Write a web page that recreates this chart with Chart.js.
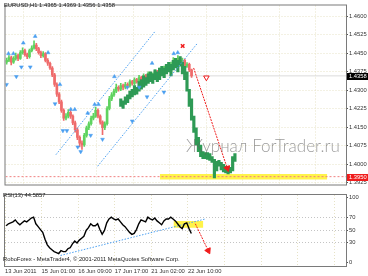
<!DOCTYPE html>
<html lang="en">
<head>
<meta charset="UTF-8">
<title>EURUSD H1</title>
<script src="https://cdn.jsdelivr.net/npm/chart.js"></script>
<style>
  body { margin: 0; background: #fff; }
  #wrap { position: relative; width: 368px; height: 276px; overflow: hidden; font-family: 'Liberation Sans', Arial, sans-serif; }
  canvas { position: absolute; left: 0; }
  #main { top: 0; }
  #rsi { top: 190px; }
  .txt { position: absolute; font-size: 5.8px; color: #222; white-space: nowrap; line-height: 1; }
  #title { left: 4px; top: 3px; }
  #rsiLbl { left: 3px; top: 193px; }
  #copy { left: 3px; top: 257px; }
  #mark { left: 186px; top: 137px; font-size: 17px; color: rgba(95,95,95,0.62); font-family: Lato, 'Liberation Sans', sans-serif; font-weight: 300; }
</style>
</head>
<body>
<div id="wrap">
  <canvas id="main" width="368" height="190"></canvas>
  <canvas id="rsi" width="368" height="86"></canvas>
  <div class="txt" id="title">EURUSD,H1  1.4365 1.4369 1.4356 1.4358</div>
  <div class="txt" id="rsiLbl">RSI(13) 44.5857</div>
  <div class="txt" id="copy">RoboForex - MetaTrader4, © 2001-2011 MetaQuotes Software Corp.</div>
  <div class="txt" id="mark">Журнал ForTrader.ru</div>
</div>
<script>
// time axis (hours from the first bar), one candle per 2 hours
const barHours = [1,3,5,7,9,11,13,15,17,19,21,23,25,27,29,31,33,35,37,39,41,43,45,47,49,51,53,55,57,59,
  61,63,65,67,69,71,73,75,77,79,81,83,85,87,89,91,93,95,97,99,101,103,105,107,109,111,113,115,117,119,
  121,123,125,127,129,131,133,135,137,139,141,143,145,147,149,151,153,155,157,159,161,163];
const opens = [1.4413,1.4421,1.4432,1.4413,1.4429,1.4440,1.4429,1.4452,1.4460,1.4444,1.4436,1.4460,1.4471,1.4483,1.4468,1.4452,1.4440,1.4448,1.4421,1.4409,
  1.4390,1.4362,1.4323,1.4284,1.4253,1.4218,1.4187,1.4195,1.4210,1.4195,1.4168,1.4140,1.4109,1.4086,1.4078,1.4117,1.4148,1.4164,1.4187,1.4195,
  1.4218,1.4195,1.4171,1.4148,1.4164,1.4226,1.4265,1.4281,1.4296,1.4312,1.4304,1.4319,1.4312,1.4323,1.4319,1.4335,1.4327,1.4343,1.4335,1.4351,
  1.4343,1.4358,1.4351,1.4366,1.4355,1.4362,1.4374,1.4362,1.4382,1.4374,1.4390,1.4382,1.4397,1.4405,1.4421,1.4413,1.4429,1.4413,1.4421,1.4397,
  1.4405,1.4382];
const closes = [1.4421,1.4432,1.4413,1.4429,1.4440,1.4429,1.4452,1.4460,1.4444,1.4436,1.4460,1.4471,1.4483,1.4468,1.4452,1.4440,1.4448,1.4421,1.4409,1.4390,
  1.4362,1.4323,1.4284,1.4253,1.4218,1.4187,1.4195,1.4210,1.4195,1.4168,1.4140,1.4109,1.4086,1.4078,1.4117,1.4148,1.4164,1.4187,1.4195,1.4218,
  1.4195,1.4171,1.4148,1.4164,1.4226,1.4265,1.4281,1.4296,1.4312,1.4304,1.4319,1.4312,1.4323,1.4319,1.4335,1.4327,1.4343,1.4335,1.4351,1.4343,
  1.4358,1.4351,1.4366,1.4355,1.4362,1.4374,1.4362,1.4382,1.4374,1.4390,1.4382,1.4397,1.4405,1.4421,1.4413,1.4429,1.4413,1.4421,1.4397,1.4405,
  1.4382,1.4358];
const highs = [1.4430,1.4440,1.4438,1.4436,1.4450,1.4446,1.4460,1.4472,1.4466,1.4450,1.4466,1.4480,1.4500,1.4490,1.4474,1.4458,1.4456,1.4452,1.4428,1.4414,
  1.4396,1.4368,1.4330,1.4290,1.4260,1.4225,1.4205,1.4222,1.4220,1.4200,1.4175,1.4148,1.4115,1.4095,1.4125,1.4155,1.4172,1.4195,1.4206,1.4232,
  1.4225,1.4200,1.4176,1.4172,1.4234,1.4275,1.4290,1.4305,1.4325,1.4318,1.4328,1.4325,1.4332,1.4330,1.4342,1.4340,1.4350,1.4348,1.4360,1.4356,
  1.4366,1.4364,1.4374,1.4370,1.4370,1.4382,1.4380,1.4390,1.4388,1.4398,1.4396,1.4405,1.4414,1.4432,1.4428,1.4440,1.4434,1.4430,1.4426,1.4412,
  1.4410,1.4385];
const lows = [1.4405,1.4415,1.4402,1.4408,1.4422,1.4420,1.4425,1.4446,1.4438,1.4428,1.4430,1.4455,1.4466,1.4460,1.4446,1.4432,1.4434,1.4414,1.4400,1.4384,
  1.4355,1.4315,1.4275,1.4245,1.4210,1.4178,1.4180,1.4188,1.4186,1.4160,1.4130,1.4100,1.4070,1.4060,1.4072,1.4110,1.4140,1.4158,1.4180,1.4190,
  1.4188,1.4162,1.4120,1.4140,1.4158,1.4220,1.4258,1.4275,1.4290,1.4296,1.4298,1.4302,1.4305,1.4310,1.4312,1.4320,1.4320,1.4328,1.4330,1.4336,
  1.4338,1.4344,1.4346,1.4348,1.4350,1.4356,1.4355,1.4358,1.4366,1.4370,1.4375,1.4376,1.4390,1.4400,1.4406,1.4408,1.4405,1.4408,1.4390,1.4392,
  1.4375,1.4352];
const rsiValues = [56.7,59.7,61.2,62.7,65.7,61.2,58.2,61.2,64.2,62.7,65.7,68.7,70.1,59.7,55.2,50.7,46.3,35.8,26.9,22.4,
  19.4,16.4,14.9,13.4,17.9,16.4,16.4,20.9,22.4,28.4,32.8,29.9,34.3,37.3,40.3,49.3,53.7,59.7,56.7,56.7,
  59.7,50.7,43.3,49.3,61.2,67.2,70.1,67.2,65.7,67.2,62.7,58.2,55.2,50.7,46.3,43.3,44.8,50.7,59.7,65.7,
  64.2,62.7,70.1,67.2,65.7,68.7,64.2,61.2,58.2,64.2,67.2,67.2,70.1,67.2,64.2,59.7,55.2,52.2,59.7,61.2,
  52.2,44.6];

// overlaid historical fragment (dark green)
const patternHours = [101,103,105,107,109,111,113,115,117,119,121,123,125,127,129,131,133,135,137,139,
  141,143,145,147,149,151,153,155,157,159,161,163,165,167,169,171,173,175,177,179,181,183,185,187,189,191,193,195,197,199,201];
const patternHighs = [1.4265,1.4257,1.4273,1.4281,1.4296,1.4304,1.4319,1.4312,1.4335,1.4343,1.4358,1.4351,1.4366,1.4374,1.4366,1.4382,1.4374,1.4390,1.4397,1.4390,
  1.4405,1.4413,1.4405,1.4421,1.4429,1.4421,1.4436,1.4413,1.4397,1.4374,1.4304,1.4265,1.4195,1.4148,1.4109,1.4078,1.4051,1.4047,1.4047,1.4043,
  1.4031,1.4020,1.4012,1.4016,1.4008,1.4000,1.3992,1.3992,1.3988,1.4031,1.4043];
const patternLows = [1.4234,1.4226,1.4242,1.4249,1.4265,1.4273,1.4281,1.4284,1.4296,1.4304,1.4312,1.4319,1.4327,1.4335,1.4327,1.4343,1.4335,1.4343,1.4358,1.4351,
  1.4366,1.4374,1.4358,1.4382,1.4390,1.4374,1.4397,1.4366,1.4343,1.4296,1.4234,1.4179,1.4129,1.4078,1.4051,1.4031,1.4023,1.4023,1.4020,1.4016,
  1.4008,1.3945,1.3973,1.3992,1.3977,1.3969,1.3965,1.3961,1.3965,1.3973,1.4012];

// fractal marks
const upFractalHours = [2.6,6.9,15.6,26.0,37.3,47.7,57.2,60.7,72.0,78.1,81.5,95.4,128.4,147.4,150.9];
const upFractalPrices = [1.4448,1.4448,1.4491,1.4518,1.4452,1.4323,1.4222,1.4222,1.4207,1.4242,1.4242,1.4355,1.4409,1.4448,1.4452];
const downFractalHours = [0.9,9.5,13.9,21.7,43.4,50.3,53.8,63.3,65.9,74.6,85.0,106.7,111.0,117.1,124.0,138.8];
const downFractalPrices = [1.4323,1.4355,1.4394,1.4394,1.4245,1.4136,1.4136,1.4070,1.4051,1.4117,1.4101,1.4312,1.4175,1.4312,1.4273,1.4292];

// analyst drawings (hour, price)
const channelLow = [[44.2, 1.4039], [131.0, 1.4538]];
const channelHigh = [[80.7, 1.3992], [168.3, 1.4491]];
const forecastArrow = [[164.8, 1.4390], [194.3, 1.3984]];
const reversalMark = [155.2, 1.4479];
const sellMark = [176.0, 1.4351];
const targetLevel = 1.3950;
const targetZone = { from: 135.3, to: 281.9, low: 1.3938, high: 1.3961 };
const lastPrice = 1.4358;

// RSI drawings (hour, value)
const rsiTrend = [[48.6, 10.4], [175.2, 67.2]];
const rsiZone = { from: 147.4, to: 173.5, low: 53.7, high: 64.2 };
const rsiArrow = [[166.5, 59.7], [177.8, 17.9]];

// axes
const gridHours = [0, 32, 64, 96, 128, 160, 192, 224, 256, 288];
const timeLabels = ['13 Jun 2011', '15 Jun 01:00', '16 Jun 09:00', '17 Jun 17:00', '21 Jun 02:00', '22 Jun 10:00'];
const priceTicks = [1.3925, 1.4000, 1.4075, 1.4150, 1.4225, 1.4300, 1.4375, 1.4450, 1.4525, 1.4600];
const rsiTicks = [0, 30, 50, 70, 100];
const hourMax = 298.3;

const UP = '#5fd35f', DOWN = '#ef6b6b', BLUE = '#4a9ff0', RED = '#f01c1c', GRID = '#e6e2c6';
const tickFont = { family: "'Liberation Sans', Arial, sans-serif", size: 5.8 };
const pts = arr => arr.map(p => ({ x: p[0], y: p[1] }));

const frame = {
  id: 'frame',
  afterDraw(c) {
    const a = c.chartArea, ctx = c.ctx;
    ctx.save();
    ctx.strokeStyle = '#7a7a7a';
    ctx.lineWidth = 1;
    ctx.strokeRect(a.left - 0.5, a.top - 0.5, a.right - a.left + 1, a.bottom - a.top + 1);
    ctx.restore();
  }
};

const tags = {
  id: 'tags',
  afterDraw(c) {
    const y = c.scales.y, ctx = c.ctx;
    ctx.save();
    ctx.font = "5.8px 'Liberation Sans', Arial";
    ctx.textBaseline = 'middle';
    [[lastPrice, '#000'], [targetLevel, RED]].forEach(([v, col]) => {
      const py = Math.round(y.getPixelForValue(v));
      ctx.fillStyle = col;
      ctx.fillRect(y.left + 1, py - 3, 22, 7);
      ctx.fillStyle = '#fff';
      ctx.fillText(v.toFixed(4), y.left + 3, py + 0.5);
    });
    ctx.restore();
  }
};

const candleColor = ctx => closes[ctx.dataIndex] >= opens[ctx.dataIndex] ? UP : DOWN;

new Chart(document.getElementById('main'), {
  type: 'bar',
  data: {
    datasets: [
      { type: 'line', data: [{ x: targetZone.from, y: targetZone.high }, { x: targetZone.to, y: targetZone.high }],
        borderWidth: 0, pointRadius: 0, fill: '+1', backgroundColor: '#fff34a', order: 12 },
      { type: 'line', data: [{ x: targetZone.from, y: targetZone.low }, { x: targetZone.to, y: targetZone.low }],
        borderWidth: 0, pointRadius: 0, fill: false, order: 12 },
      { type: 'line', data: [{ x: 0, y: targetLevel }, { x: hourMax, y: targetLevel }],
        borderColor: '#f08080', borderWidth: 1, borderDash: [2, 2], pointRadius: 0, order: 11 },
      { type: 'line', data: [{ x: 0, y: lastPrice }, { x: hourMax, y: lastPrice }],
        borderColor: '#dcdcdc', borderWidth: 1, pointRadius: 0, order: 11 },
      { data: barHours.map((h, i) => ({ x: h, y: [lows[i], highs[i]] })),
        backgroundColor: candleColor, barThickness: 1, grouped: false, order: 9 },
      { data: barHours.map((h, i) => ({ x: h, y: [opens[i], closes[i]] })),
        backgroundColor: candleColor, barThickness: 2, grouped: false, order: 8 },
      { data: patternHours.map((h, i) => ({ x: h, y: [patternLows[i], patternHighs[i]] })),
        backgroundColor: '#2e9a55', barThickness: 2.5, grouped: false, order: 7 },
      { type: 'line', data: pts(channelLow), borderColor: BLUE, borderWidth: 1, borderDash: [1.5, 1.5], pointRadius: 0, order: 6 },
      { type: 'line', data: pts(channelHigh), borderColor: BLUE, borderWidth: 1, borderDash: [1.5, 1.5], pointRadius: 0, order: 6 },
      { type: 'scatter', data: upFractalHours.map((h, i) => ({ x: h, y: upFractalPrices[i] })),
        pointStyle: 'triangle', pointRadius: 2.2, backgroundColor: BLUE, borderColor: BLUE, borderWidth: 0.5, order: 5 },
      { type: 'scatter', data: downFractalHours.map((h, i) => ({ x: h, y: downFractalPrices[i] })),
        pointStyle: 'triangle', rotation: 180, pointRadius: 2.2, backgroundColor: BLUE, borderColor: BLUE, borderWidth: 0.5, order: 5 },
      { type: 'line', data: pts(forecastArrow), borderColor: RED, borderWidth: 1, borderDash: [2, 1],
        pointRadius: [0, 3.5], pointStyle: 'triangle', rotation: 162, pointBackgroundColor: RED, pointBorderColor: RED, order: 4 },
      { type: 'scatter', data: [{ x: reversalMark[0], y: reversalMark[1] }],
        pointStyle: 'crossRot', pointRadius: 2.5, borderColor: RED, borderWidth: 1.5, order: 3 },
      { type: 'scatter', data: [{ x: sellMark[0], y: sellMark[1] }],
        pointStyle: 'triangle', rotation: 180, pointRadius: 3.2, backgroundColor: '#fff', borderColor: RED, borderWidth: 1, order: 3 }
    ]
  },
  options: {
    responsive: false, animation: false, events: [],
    layout: { padding: { left: 2, top: 3, right: 0, bottom: 1 } },
    plugins: { legend: { display: false }, tooltip: { enabled: false } },
    scales: {
      x: {
        type: 'linear', min: 0, max: hourMax, offset: false,
        afterBuildTicks: s => { s.ticks = gridHours.map(v => ({ value: v })); },
        afterFit: s => { s.height = 0; },
        ticks: { display: false },
        grid: { color: GRID, drawTicks: false },
        border: { display: false, dash: [1, 2] }
      },
      y: {
        position: 'right', min: 1.39182, max: 1.46429,
        afterBuildTicks: s => { s.ticks = priceTicks.map(v => ({ value: v })); },
        afterFit: s => { s.width = 22; },
        ticks: { font: tickFont, color: '#333', padding: 1, callback: v => v.toFixed(4) },
        grid: { color: GRID, tickLength: 2, tickColor: '#555' },
        border: { color: '#666', dash: [1, 2] }
      }
    }
  },
  plugins: [frame, tags]
});

new Chart(document.getElementById('rsi'), {
  type: 'line',
  data: {
    datasets: [
      { data: [{ x: rsiZone.from, y: rsiZone.high }, { x: rsiZone.to, y: rsiZone.high }],
        borderWidth: 0, pointRadius: 0, fill: '+1', backgroundColor: '#fff34a', order: 10 },
      { data: [{ x: rsiZone.from, y: rsiZone.low }, { x: rsiZone.to, y: rsiZone.low }],
        borderWidth: 0, pointRadius: 0, fill: false, order: 10 },
      { data: pts(rsiTrend), borderColor: BLUE, borderWidth: 1, borderDash: [1.5, 1.5], pointRadius: 0, order: 5 },
      { data: barHours.map((h, i) => ({ x: h, y: rsiValues[i] })), borderColor: '#000', borderWidth: 1.4,
        pointRadius: 0, tension: 0, order: 4 },
      { data: pts(rsiArrow), borderColor: RED, borderWidth: 1, borderDash: [2, 1],
        pointRadius: [0, 3.5], pointStyle: 'triangle', rotation: 154, pointBackgroundColor: RED, pointBorderColor: RED, order: 3 }
    ]
  },
  options: {
    responsive: false, animation: false, events: [],
    layout: { padding: { left: 2, top: 2, right: 0, bottom: 0 } },
    plugins: { legend: { display: false }, tooltip: { enabled: false } },
    scales: {
      x: {
        type: 'linear', min: 0, max: hourMax,
        afterBuildTicks: s => { s.ticks = gridHours.map(v => ({ value: v })); },
        afterFit: s => { s.height = 10; },
        ticks: { font: tickFont, color: '#333', padding: 2, align: 'start', maxRotation: 0, autoSkip: false,
          callback: (v, i) => timeLabels[i] || '' },
        grid: { color: GRID, drawTicks: false },
        border: { display: false, dash: [1, 2] }
      },
      y: {
        position: 'right', min: -6, max: 104.5,
        afterBuildTicks: s => { s.ticks = rsiTicks.map(v => ({ value: v })); },
        afterFit: s => { s.width = 22; },
        ticks: { font: tickFont, color: '#333', padding: 1 },
        grid: { color: c => (c.tick && (c.tick.value === 0 || c.tick.value === 100)) ? 'rgba(0,0,0,0)' : '#c4c4c4',
          tickLength: 2, tickColor: '#555' },
        border: { color: '#666', dash: [1, 2] }
      }
    }
  },
  plugins: [frame]
});
</script>
</body>
</html>
